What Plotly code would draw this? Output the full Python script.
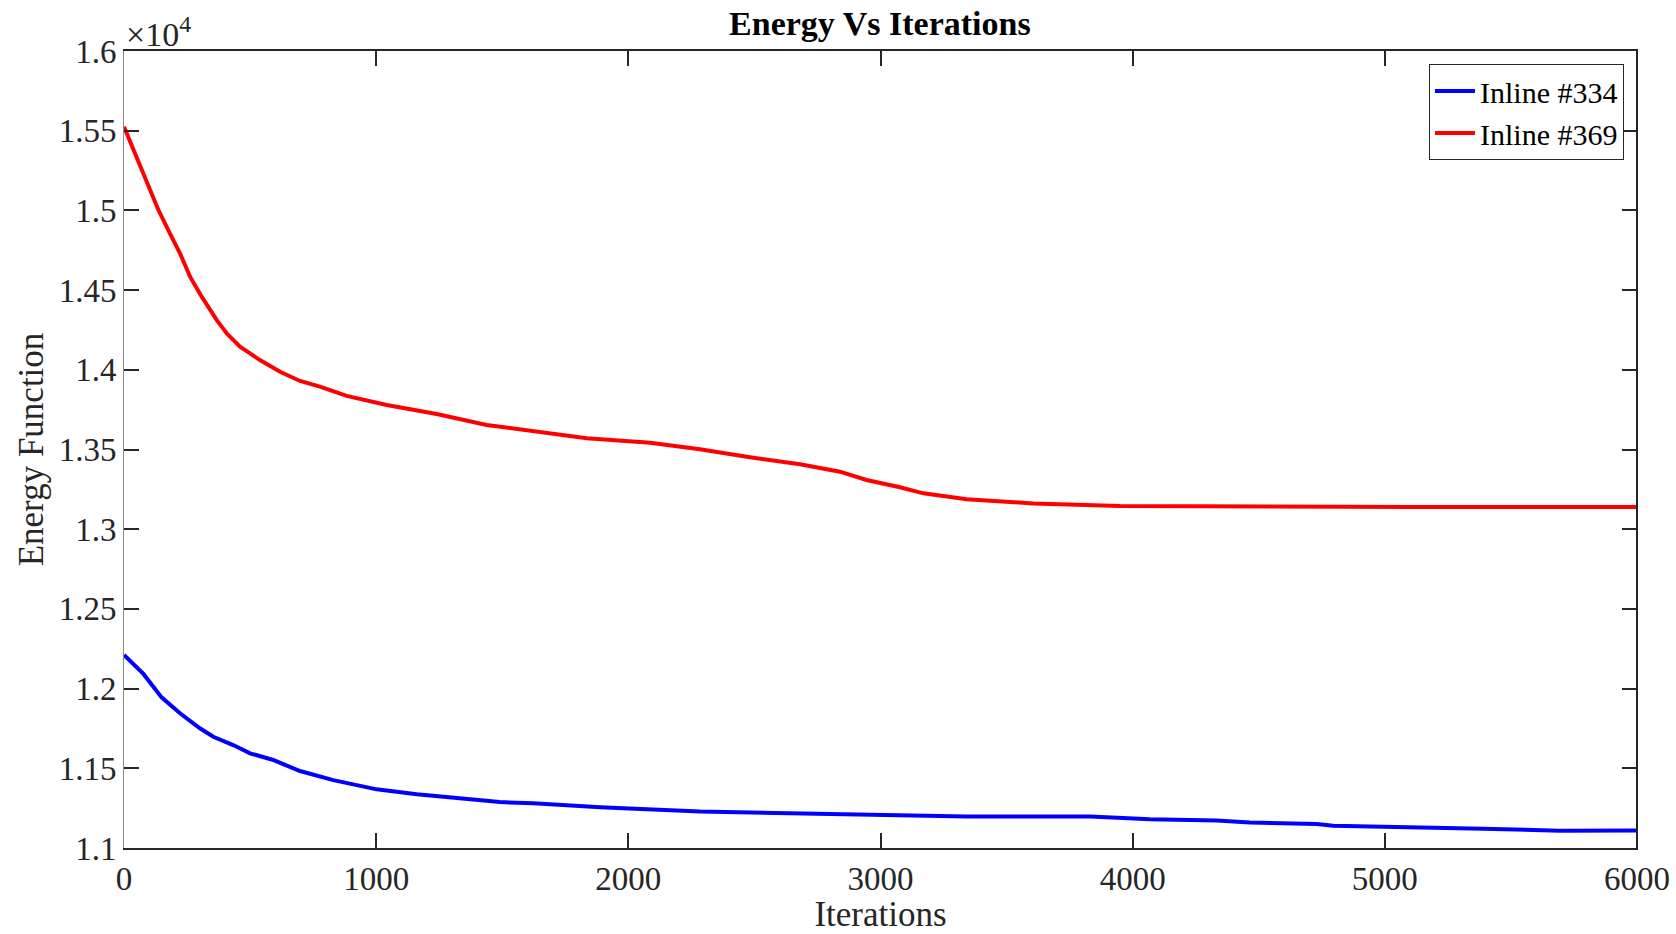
import plotly.graph_objects as go

# ---- data ----
red_x = [0, 50, 90, 136, 182, 222, 262, 308, 368, 407, 460, 539, 619, 698, 777, 883,
         1042, 1240, 1438, 1637, 1835, 2086, 2284, 2482, 2681, 2839, 2945, 3077, 3170,
         3342, 3606, 3950, 4300, 4700, 5100, 5500, 6000]
red_y = [15525, 15337, 15180, 15004, 14856, 14731, 14584, 14459, 14312, 14229, 14145,
         14061, 13988, 13930, 13894, 13836, 13779, 13723, 13654, 13612, 13570, 13543,
         13501, 13451, 13407, 13361, 13309, 13263, 13225, 13188, 13162, 13146, 13143,
         13140, 13139, 13139, 13140]

blue_x = [0, 77, 149, 222, 301, 354, 433, 500, 592, 698, 830, 1002, 1161, 1359, 1490,
          1623, 1888, 2284, 2681, 3077, 3342, 3672, 3831, 4069, 4333, 4465, 4730, 4796,
          5126, 5391, 5695, 6000]
blue_y = [12211, 12092, 11945, 11845, 11751, 11698, 11646, 11594, 11552, 11483, 11426,
          11368, 11337, 11305, 11288, 11280, 11256, 11229, 11219, 11208, 11198, 11198,
          11198, 11181, 11173, 11160, 11150, 11140, 11126, 11120, 11109, 11110]

x_ticks = [0, 1000, 2000, 3000, 4000, 5000, 6000]
y_ticks = [11000, 11500, 12000, 12500, 13000, 13500, 14000, 14500, 15000, 15500, 16000]
y_tick_text = ["1.1", "1.15", "1.2", "1.25", "1.3", "1.35", "1.4", "1.45", "1.5", "1.55", "1.6"]

series_names = ["Inline #334", "Inline #369"]

FONT = "Liberation Serif"
DARK = "#262626"

fig = go.Figure()
fig.add_trace(go.Scatter(x=blue_x, y=blue_y, mode="lines", name=series_names[0],
                         line=dict(color="#0000FF", width=4)))
fig.add_trace(go.Scatter(x=red_x, y=red_y, mode="lines", name=series_names[1],
                         line=dict(color="#FF0000", width=4)))

fig.update_layout(
    width=1676, height=934,
    margin=dict(l=124, r=39, t=51, b=86, autoexpand=False),
    paper_bgcolor="white", plot_bgcolor="white",
    font=dict(family=FONT, size=33, color=DARK),
    title=dict(text="<b>Energy Vs Iterations</b>", x=0.525, xanchor="center",
               y=0.975, yanchor="middle", font=dict(size=34, color="black")),
    showlegend=True,
    legend=dict(x=0.9914, xanchor="right", y=0.9837, yanchor="top",
                bgcolor="white", bordercolor=DARK, borderwidth=1,
                font=dict(size=30, color="black"), tracegroupgap=0,
                itemwidth=40),
)

fig.update_xaxes(
    range=[0, 6000], tickvals=x_ticks, ticktext=[str(v) for v in x_ticks],
    showgrid=False, zeroline=False, automargin=False,
    showline=True, linecolor=DARK, linewidth=2, mirror="ticks",
    ticks="inside", ticklen=15, tickwidth=2, tickcolor=DARK,
    title=dict(text="Iterations", font=dict(size=35), standoff=16),
    tickfont=dict(size=33),
)
fig.update_yaxes(
    range=[11000, 16000], tickvals=y_ticks, ticktext=y_tick_text,
    showgrid=False, zeroline=False, automargin=False,
    showline=True, linecolor="#8a8a8a", linewidth=1, mirror="ticks",
    ticks="inside", ticklen=15, tickwidth=2, tickcolor=DARK,
    title=dict(text="Energy Function", font=dict(size=35), standoff=4),
    tickfont=dict(size=33),
)

# dark right spine
fig.add_shape(type="line", xref="paper", yref="paper", x0=1, x1=1, y0=0, y1=1,
              line=dict(color=DARK, width=2))

# exponent label
fig.add_annotation(xref="paper", yref="paper", x=0.0, y=1.0, xanchor="left",
                   yanchor="bottom", showarrow=False, xshift=0, yshift=-4,
                   text="×10<sup>4</sup>", font=dict(size=34, color=DARK))

fig.write_html("out.html")
